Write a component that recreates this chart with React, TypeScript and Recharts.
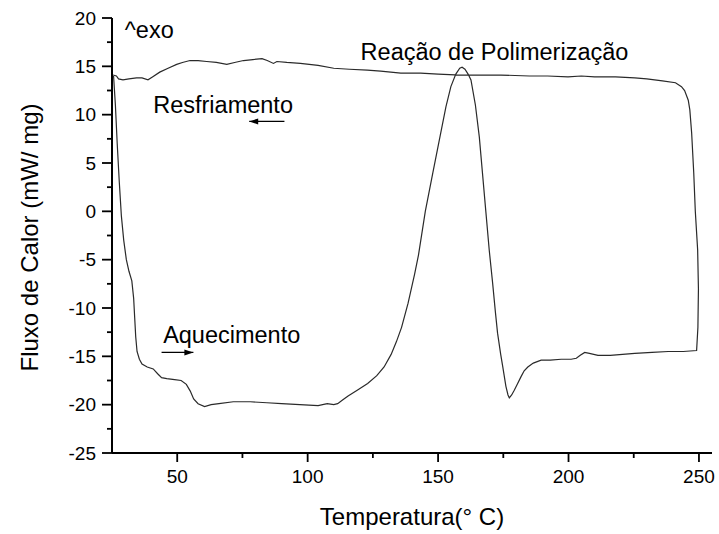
import React from "react";
import { LineChart, Line, XAxis, YAxis, ReferenceDot, ReferenceLine } from "recharts";

// Temperature (°C) along the DSC trace, in recorded order (heating then cooling)
const temperature = [
  25.6, 26.3, 27.0, 27.8, 28.6, 29.5, 30.5, 31.5, 32.6, 33.3, 33.7, 34.1, 34.6, 35.5, 36.5, 38.5,
  40.8, 42.5, 44.0, 46.0, 49.0, 51.5, 53.5, 55.0, 56.3, 58.0, 60.5, 63.0, 66.0, 71.5, 78.0, 84.4,
  90.0, 97.0, 104.0, 107.5, 110.0, 111.5, 113.5, 115.5, 119.0, 123.0, 126.5, 129.3, 132.0, 134.0,
  136.0, 138.5, 141.0, 142.5, 145.1, 148.0, 151.0, 153.0, 154.9, 156.8, 158.3, 159.2, 160.3, 161.5,
  162.6, 164.3, 165.8, 168.3, 169.6, 170.9, 172.0, 172.8, 174.0, 174.8, 176.0, 176.8, 177.3, 178.2,
  179.2, 180.5, 181.8, 183.0, 184.4, 186.5, 189.5, 193.0, 197.2, 201.0, 203.0, 204.5, 206.2, 208.0,
  211.3, 216.0, 225.4, 232.0, 238.2, 244.0, 249.1, 249.6, 249.8, 249.5, 248.6, 248.0, 247.2, 246.5,
  245.9, 244.5, 243.3, 241.0,
  236.0, 230.0, 225.4, 218.0, 210.0, 204.9, 199.8, 192.0, 185.0, 174.1, 165.0, 158.7, 150.0, 143.3,
  135.7, 128.0, 122.9, 116.0, 110.0, 104.0, 97.2, 92.0, 88.2, 86.9, 84.5, 82.5, 79.0, 75.4, 72.0,
  69.0, 65.0, 61.3, 58.0, 54.9, 52.0, 49.8, 46.5, 43.3, 40.5, 38.8, 36.5, 34.4, 31.5, 29.2, 27.5,
  26.7, 25.4,
];

// Heat flow (mW/mg) matching each temperature
const heatFlow = [
  14.0, 11.0, 7.0, 3.0, -0.5, -3.0, -5.0, -6.2, -7.2, -9.0, -11.0, -13.0, -14.5, -15.3, -15.8, -16.1,
  -16.3, -16.8, -17.2, -17.3, -17.4, -17.5, -17.9, -18.6, -19.4, -19.9, -20.2, -20.0, -19.9, -19.7, -19.7, -19.8,
  -19.9, -20.0, -20.1, -19.9, -20.0, -19.9, -19.5, -19.1, -18.5, -17.8, -17.0, -16.1, -14.8, -13.5,
  -12.0, -9.5, -6.5, -4.5, 0.0, 4.0, 8.1, 10.8, 12.9, 14.2, 14.8, 14.9, 14.7, 14.2,
  13.6, 11.0, 7.7, 0.0, -4.0, -7.4, -10.5, -12.6, -14.8, -16.1, -18.1, -19.0, -19.3, -19.0,
  -18.5, -17.8, -17.1, -16.5, -16.1, -15.7, -15.4, -15.4, -15.3, -15.3, -15.2, -14.9, -14.6, -14.7,
  -14.9, -14.9, -14.7, -14.6, -14.5, -14.5, -14.4, -12.0, -8.0, -4.0, 0.0, 4.0, 8.1, 10.5,
  11.5, 12.5, 12.9, 13.3,
  13.5, 13.7, 13.8, 13.9, 13.9, 14.0, 13.9, 14.0, 14.0, 14.1, 14.1, 14.1, 14.2, 14.3,
  14.3, 14.5, 14.6, 14.7, 14.8, 15.1, 15.3, 15.4, 15.5, 15.3, 15.6, 15.8, 15.7, 15.6, 15.4,
  15.2, 15.4, 15.5, 15.6, 15.6, 15.4, 15.2, 14.8, 14.4, 13.9, 13.6, 13.8, 13.8, 13.7, 13.6, 13.7,
  14.0, 14.1,
];

const xTicks = [50, 75, 100, 125, 150, 175, 200, 225, 250];
const xMajor = [50, 100, 150, 200, 250];
const yTicks = [-25, -22.5, -20, -17.5, -15, -12.5, -10, -7.5, -5, -2.5, 0, 2.5, 5, 7.5, 10, 12.5, 15, 17.5, 20];
const yMajor = [-25, -20, -15, -10, -5, 0, 5, 10, 15, 20];

const annotationTexts = ["^exo", "Resfriamento", "Reação de Polimerização", "Aquecimento"];
const annotationX = [29.9, 40.8, 120.3, 44.6];
const annotationY = [17.9, 10.2, 15.7, -13.6];

// arrows: tail x, head x, y
const arrowTail = [91.1, 44.0];
const arrowHead = [77.6, 56.2];
const arrowY = [9.3, -14.6];

const data = temperature.map((t, i) => ({ t, v: heatFlow[i] }));

const FONT = "'Liberation Sans', Arial, Helvetica, sans-serif";

const XTick = (props: any) => {
  const { x, y, payload } = props;
  const major = xMajor.includes(payload.value);
  return (
    <g>
      <line x1={x} x2={x} y1={y} y2={y + (major ? 9 : 5)} stroke="#000" strokeWidth={1.8} />
      {major && (
        <text x={x} y={y + 30} textAnchor="middle" fontSize={19} fontFamily={FONT} fill="#000">
          {payload.value}
        </text>
      )}
    </g>
  );
};

const YTick = (props: any) => {
  const { x, y, payload } = props;
  const major = yMajor.includes(payload.value);
  return (
    <g>
      <line x1={x - (major ? 10 : 5)} x2={x} y1={y} y2={y} stroke="#000" strokeWidth={1.8} />
      {major && (
        <text x={x - 16} y={y + 6.5} textAnchor="end" fontSize={19} fontFamily={FONT} fill="#000">
          {payload.value}
        </text>
      )}
    </g>
  );
};

export default function App() {
  return (
    <div style={{ position: "absolute", left: 0, top: 0, background: "#fff" }}>
      <LineChart
        width={719}
        height={534}
        data={data}
        margin={{ top: 18, right: 7, bottom: 0, left: 0 }}
      >
        <XAxis
          dataKey="t"
          type="number"
          domain={[25, 255]}
          ticks={xTicks}
          interval={0}
          height={81}
          tickSize={0}
          tickMargin={0}
          tickLine={false}
          tick={<XTick />}
          axisLine={{ stroke: "#000", strokeWidth: 2 }}
          allowDataOverflow
          label={{
            content: (p: any) => {
              const vb = p.viewBox;
              return (
                <text x={vb.x + vb.width / 2} y={vb.y + 72} textAnchor="middle" fontSize={24} fontFamily={FONT} fill="#000">
                  Temperatura(° C)
                </text>
              );
            },
          }}
        />
        <YAxis
          type="number"
          domain={[-25, 20]}
          ticks={yTicks}
          interval={0}
          width={112}
          tickSize={0}
          tickMargin={0}
          tickLine={false}
          tick={<YTick />}
          axisLine={{ stroke: "#000", strokeWidth: 2 }}
          allowDataOverflow
          label={{
            content: (p: any) => {
              const vb = p.viewBox;
              const cx = vb.x + 38;
              const cy = vb.y + vb.height / 2 + 2;
              return (
                <text x={cx} y={cy} transform={`rotate(-90, ${cx}, ${cy})`} textAnchor="middle" fontSize={24} fontFamily={FONT} fill="#000">
                  Fluxo de Calor (mW/ mg)
                </text>
              );
            },
          }}
        />
        <Line
          type="linear"
          dataKey="v"
          stroke="#2a2a2a"
          strokeWidth={1.2}
          dot={false}
          isAnimationActive={false}
        />
        {annotationTexts.map((txt, i) => (
          <ReferenceDot
            key={"a" + i}
            x={annotationX[i]}
            y={annotationY[i]}
            r={0}
            shape={(p: any) => (
              <text x={p.cx} y={p.cy} fontSize={23.5} fontFamily={FONT} fill="#000">
                {txt}
              </text>
            )}
          />
        ))}
        {arrowTail.map((tx, i) => (
          <ReferenceLine
            key={"l" + i}
            segment={[
              { x: tx, y: arrowY[i] },
              { x: arrowHead[i], y: arrowY[i] },
            ]}
            stroke="#000"
            strokeWidth={1.3}
          />
        ))}
        {arrowHead.map((hx, i) => (
          <ReferenceDot
            key={"h" + i}
            x={hx}
            y={arrowY[i]}
            r={0}
            shape={(p: any) => {
              const dir = arrowHead[i] > arrowTail[i] ? 1 : -1;
              const tip = p.cx;
              const base = p.cx - dir * 9;
              return <polygon points={`${tip},${p.cy} ${base},${p.cy - 3} ${base},${p.cy + 3}`} fill="#000" />;
            }}
          />
        ))}
      </LineChart>
    </div>
  );
}
